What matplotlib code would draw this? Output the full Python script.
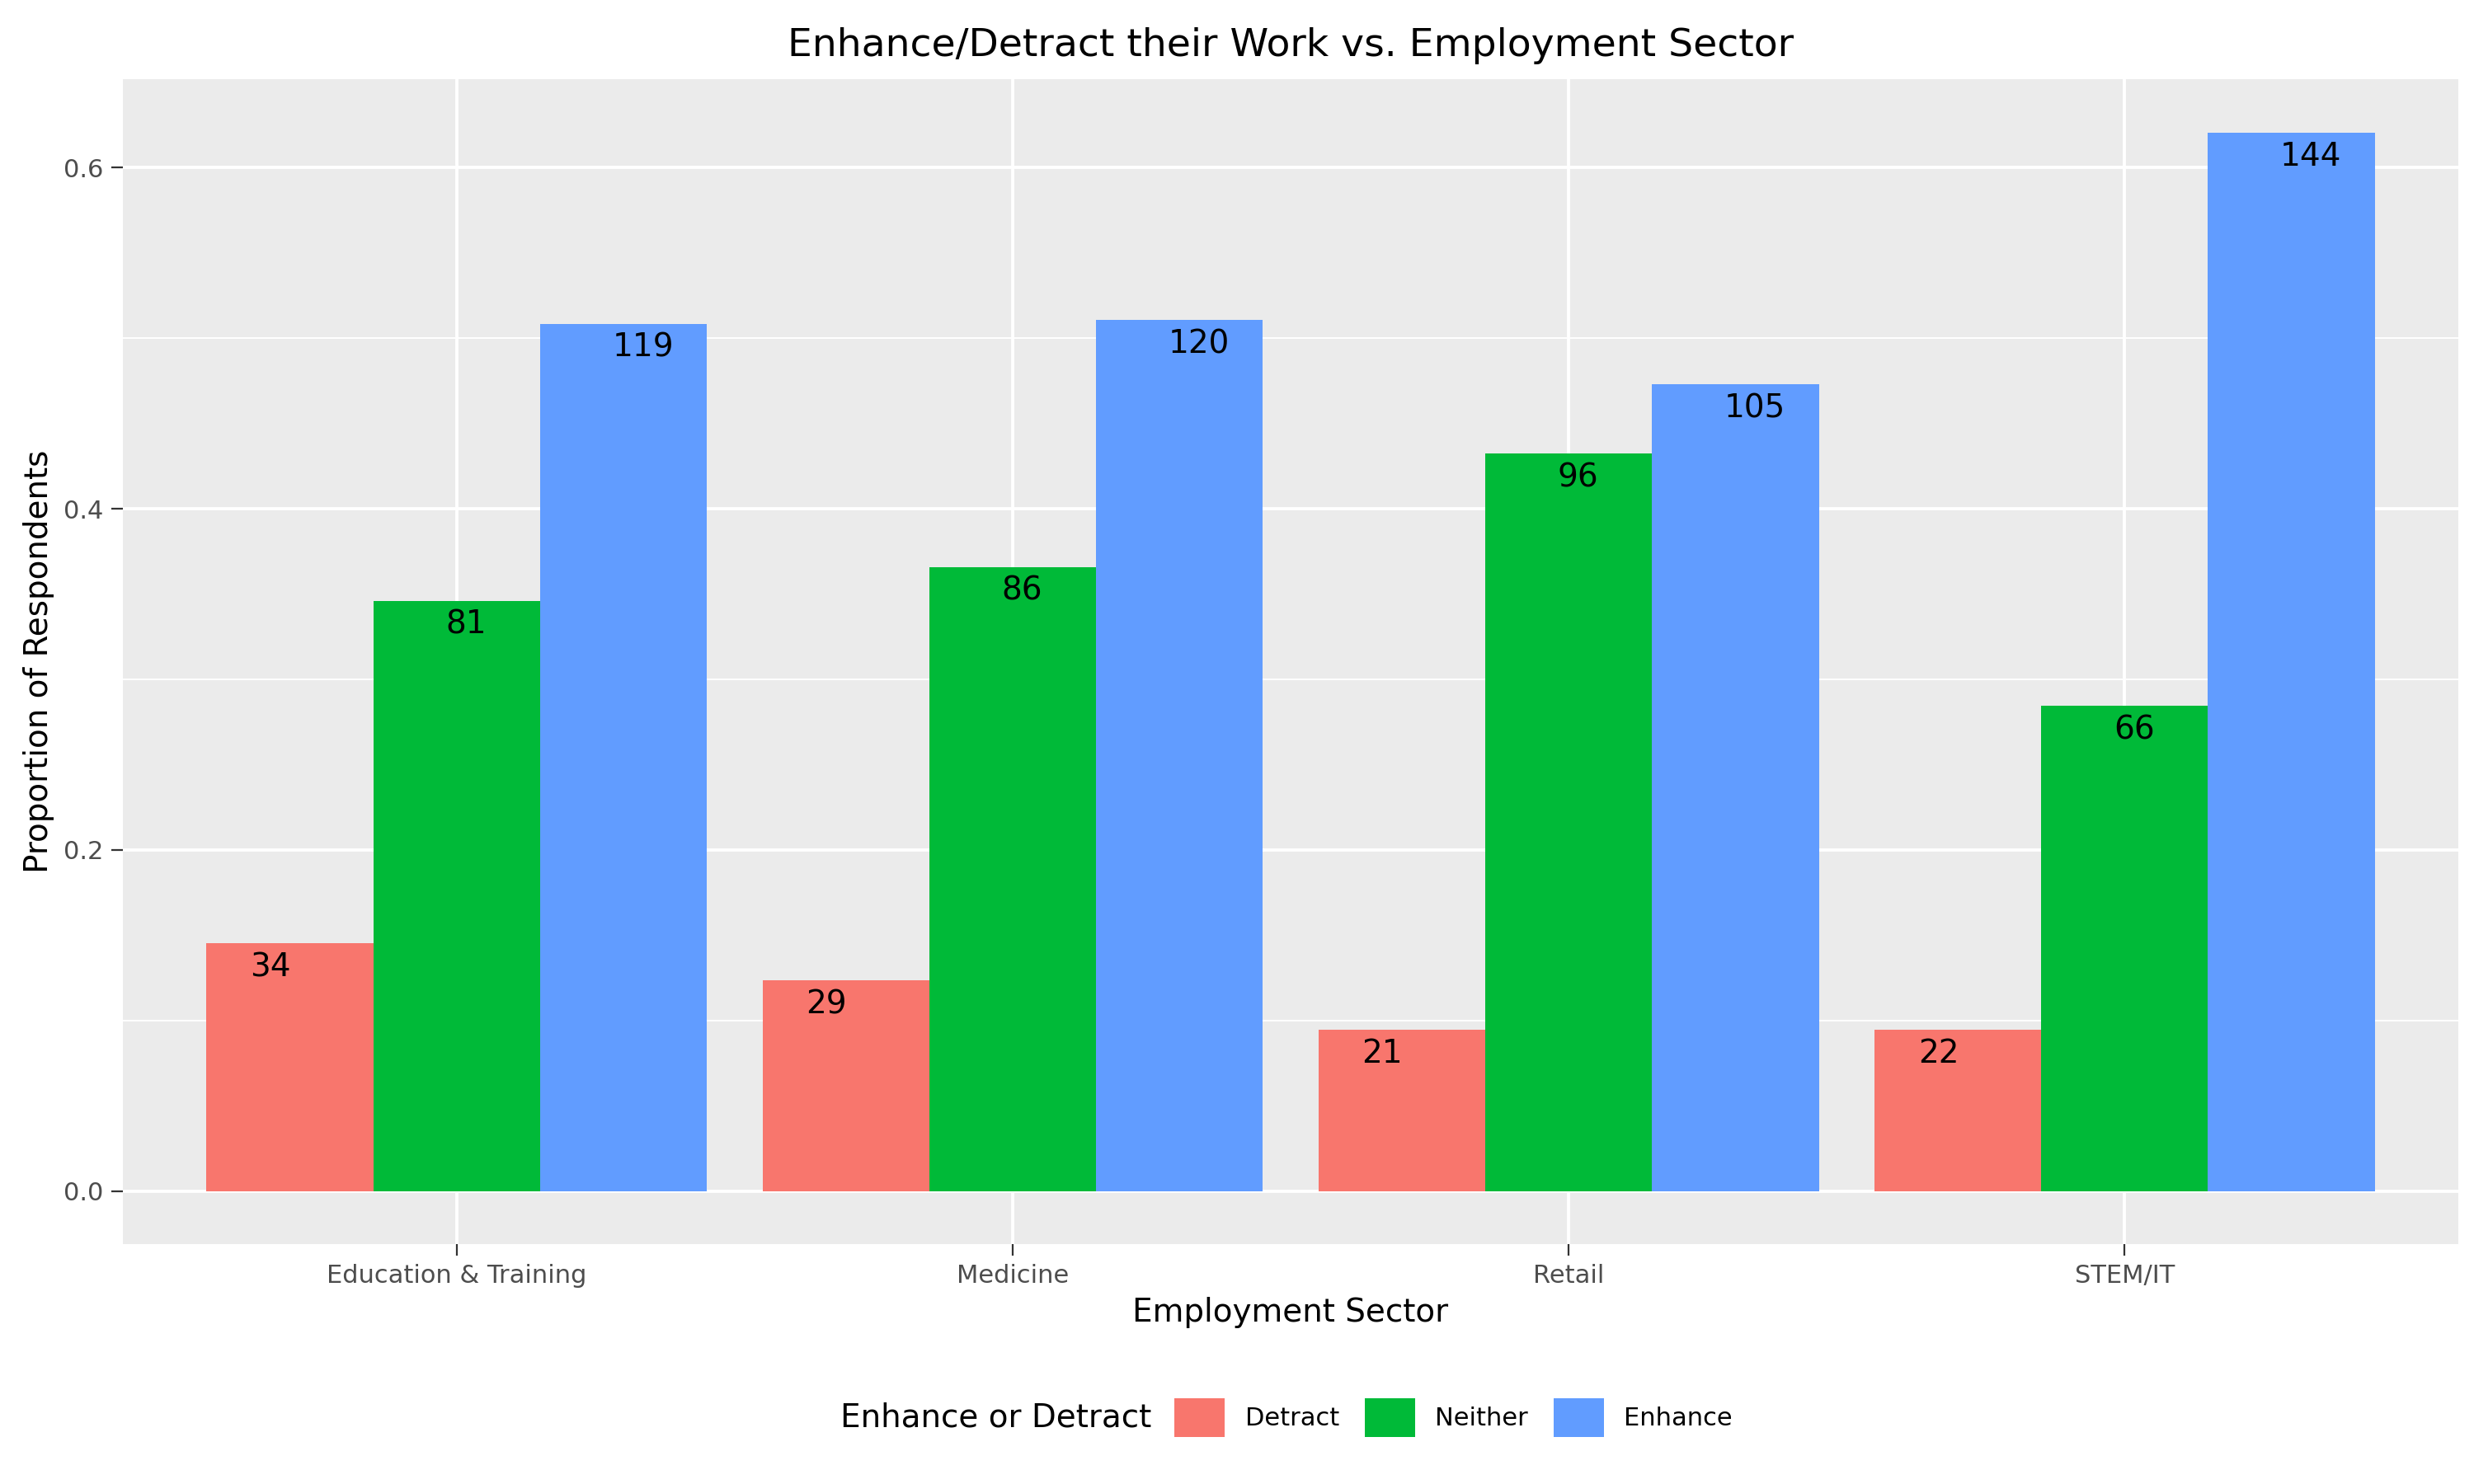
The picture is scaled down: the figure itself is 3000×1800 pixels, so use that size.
import matplotlib
matplotlib.use("Agg")
import matplotlib.pyplot as plt
import numpy as np

sectors = ["Education & Training", "Medicine", "Retail", "STEM/IT"]
groups = ["Detract", "Neither", "Enhance"]
detract = [34, 29, 21, 22]
neither = [81, 86, 96, 66]
enhance = [119, 120, 105, 144]
colors = ["#F8766D", "#00BA38", "#619CFF"]
yticks = [0.0, 0.2, 0.4, 0.6]

counts = np.array([detract, neither, enhance], dtype=float)
props = counts / counts.sum(axis=0)

fig = plt.figure(figsize=(15, 9), dpi=200)
ax = fig.add_axes([78/1568, 1-788/940, 1480/1568, 738/940])
ax.set_facecolor("#EBEBEB")
x = np.arange(1, 5)
w = 0.3
label_off = [-0.035, 0.017, 0.035]
for i, g in enumerate(groups):
    xs = x + (i - 1) * w
    ax.bar(xs, props[i], width=w, color=colors[i], label=g, zorder=3)
    for xi, p, c in zip(xs, props[i], counts[i]):
        ax.text(xi + label_off[i], p - 0.005, f"{int(c)}", ha="center", va="top",
                fontsize=14, zorder=4)
ax.set_xlim(0.4, 4.6)
ax.set_ylim(-0.031, 0.652)
ax.set_yticks(yticks)
ax.set_yticklabels([f"{t:.1f}" for t in yticks])
ax.set_yticks([0.1, 0.3, 0.5], minor=True)
ax.set_xticks(x)
ax.set_xticklabels(sectors)
ax.grid(True, which="major", color="white", linewidth=1.4, zorder=0)
ax.grid(True, which="minor", axis="y", color="white", linewidth=0.7, zorder=0)
ax.tick_params(which="minor", length=0)
ax.tick_params(which="major", length=5, color="#333333", labelsize=11, labelcolor="#4D4D4D")
for s in ax.spines.values():
    s.set_visible(False)
ax.set_xlabel("Employment Sector", fontsize=14)
ax.set_ylabel("Proportion of Respondents", fontsize=14)
ax.set_title("Enhance/Detract their Work vs. Employment Sector", fontsize=17, pad=10)
leg = fig.legend(loc="center", bbox_to_anchor=(0.52, 1-898/940), ncol=3, frameon=False,
                 title="Enhance or Detract", fontsize=11, title_fontsize=14,
                 handlelength=2.0, handleheight=2.0, columnspacing=1.0)
leg._legend_box.align = "left"
# put title to the left of the entries
leg.get_title().set_position((0, 0))
from matplotlib.offsetbox import HPacker
box = leg._legend_box
box.__class__ = HPacker
box.sep = 10
box.align = "center"
fig.savefig("out.png", dpi=200)
